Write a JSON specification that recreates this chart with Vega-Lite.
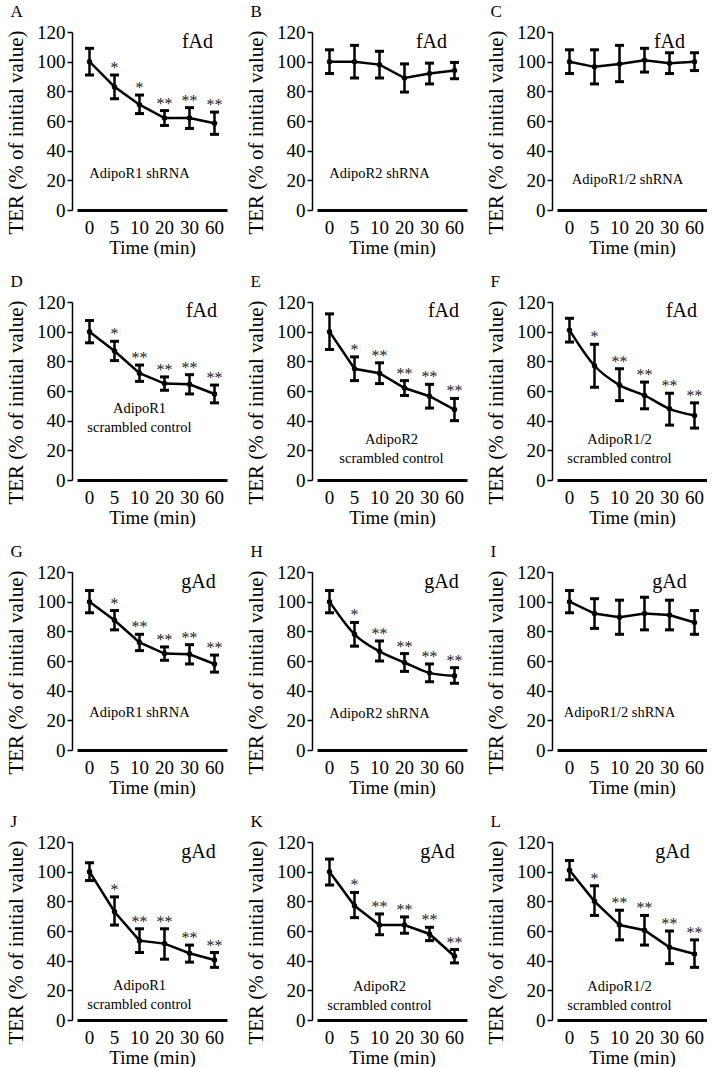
{
"$schema":"https://vega.github.io/schema/vega-lite/v6.json",
"padding":{"left":5,"top":3,"right":0,"bottom":0},
"background":"white",
"data":{"values":[
{"p":"A","t":0,"m":100,"lo":91,"hi":109,"s":""},
{"p":"A","t":5,"m":83,"lo":75,"hi":91,"s":"*"},
{"p":"A","t":10,"m":71,"lo":65,"hi":77.5,"s":"*"},
{"p":"A","t":20,"m":62,"lo":57,"hi":67,"s":"**"},
{"p":"A","t":30,"m":62,"lo":55,"hi":69,"s":"**"},
{"p":"A","t":60,"m":58.5,"lo":51,"hi":66,"s":"**"},
{"p":"B","t":0,"m":100,"lo":92,"hi":108,"s":""},
{"p":"B","t":5,"m":100,"lo":89,"hi":111,"s":""},
{"p":"B","t":10,"m":98,"lo":89,"hi":107,"s":""},
{"p":"B","t":20,"m":89,"lo":79.5,"hi":98.5,"s":""},
{"p":"B","t":30,"m":92,"lo":85,"hi":99,"s":""},
{"p":"B","t":60,"m":94,"lo":88.5,"hi":99.5,"s":""},
{"p":"C","t":0,"m":100,"lo":92,"hi":108,"s":""},
{"p":"C","t":5,"m":96.5,"lo":85,"hi":108,"s":""},
{"p":"C","t":10,"m":98.5,"lo":86.5,"hi":111,"s":""},
{"p":"C","t":20,"m":101,"lo":93,"hi":109,"s":""},
{"p":"C","t":30,"m":99,"lo":92,"hi":106,"s":""},
{"p":"C","t":60,"m":100,"lo":94,"hi":106,"s":""},
{"p":"D","t":0,"m":100,"lo":92.5,"hi":107.5,"s":""},
{"p":"D","t":5,"m":87,"lo":80.5,"hi":93.5,"s":"*"},
{"p":"D","t":10,"m":72,"lo":66.5,"hi":77.5,"s":"**"},
{"p":"D","t":20,"m":65,"lo":60.5,"hi":69.5,"s":"**"},
{"p":"D","t":30,"m":64.5,"lo":58,"hi":71,"s":"**"},
{"p":"D","t":60,"m":58,"lo":52,"hi":64,"s":"**"},
{"p":"E","t":0,"m":100,"lo":88,"hi":112,"s":""},
{"p":"E","t":5,"m":75,"lo":67,"hi":83,"s":"*"},
{"p":"E","t":10,"m":72,"lo":65,"hi":79,"s":"**"},
{"p":"E","t":20,"m":62,"lo":57,"hi":67,"s":"**"},
{"p":"E","t":30,"m":56.5,"lo":48.5,"hi":64.5,"s":"**"},
{"p":"E","t":60,"m":47.5,"lo":40,"hi":55,"s":"**"},
{"p":"F","t":0,"m":101,"lo":93,"hi":109,"s":""},
{"p":"F","t":5,"m":77,"lo":62.5,"hi":91.5,"s":"*"},
{"p":"F","t":10,"m":64,"lo":53.5,"hi":75,"s":"**"},
{"p":"F","t":20,"m":57,"lo":48,"hi":66,"s":"**"},
{"p":"F","t":30,"m":48,"lo":37,"hi":58.5,"s":"**"},
{"p":"F","t":60,"m":43.5,"lo":35,"hi":52,"s":"**"},
{"p":"G","t":0,"m":100,"lo":92.5,"hi":107.5,"s":""},
{"p":"G","t":5,"m":87.5,"lo":81,"hi":94,"s":"*"},
{"p":"G","t":10,"m":72.5,"lo":67,"hi":78,"s":"**"},
{"p":"G","t":20,"m":65,"lo":60.5,"hi":69.5,"s":"**"},
{"p":"G","t":30,"m":64.5,"lo":58,"hi":71,"s":"**"},
{"p":"G","t":60,"m":58,"lo":52.5,"hi":64,"s":"**"},
{"p":"H","t":0,"m":100,"lo":92.5,"hi":107.5,"s":""},
{"p":"H","t":5,"m":78,"lo":70,"hi":86,"s":"*"},
{"p":"H","t":10,"m":66.5,"lo":60,"hi":73.5,"s":"**"},
{"p":"H","t":20,"m":59,"lo":53,"hi":65,"s":"**"},
{"p":"H","t":30,"m":52,"lo":46,"hi":58,"s":"**"},
{"p":"H","t":60,"m":50,"lo":45,"hi":55.5,"s":"**"},
{"p":"I","t":0,"m":100,"lo":92.5,"hi":107.5,"s":""},
{"p":"I","t":5,"m":92,"lo":82,"hi":102,"s":""},
{"p":"I","t":10,"m":89.5,"lo":78,"hi":101,"s":""},
{"p":"I","t":20,"m":92,"lo":81,"hi":103,"s":""},
{"p":"I","t":30,"m":91,"lo":81,"hi":101,"s":""},
{"p":"I","t":60,"m":86,"lo":78,"hi":94,"s":""},
{"p":"J","t":0,"m":100,"lo":94,"hi":106,"s":""},
{"p":"J","t":5,"m":73,"lo":64,"hi":83,"s":"*"},
{"p":"J","t":10,"m":53.5,"lo":45.5,"hi":61.5,"s":"**"},
{"p":"J","t":20,"m":51.5,"lo":41,"hi":61.5,"s":"**"},
{"p":"J","t":30,"m":45,"lo":39,"hi":50.5,"s":"**"},
{"p":"J","t":60,"m":40.5,"lo":35.5,"hi":45.5,"s":"**"},
{"p":"K","t":0,"m":100,"lo":91,"hi":108.5,"s":""},
{"p":"K","t":5,"m":77,"lo":69,"hi":86,"s":"*"},
{"p":"K","t":10,"m":64,"lo":57.5,"hi":71.5,"s":"**"},
{"p":"K","t":20,"m":64,"lo":58.5,"hi":69.5,"s":"**"},
{"p":"K","t":30,"m":58,"lo":53.5,"hi":62.5,"s":"**"},
{"p":"K","t":60,"m":43,"lo":38.5,"hi":47.5,"s":"**"},
{"p":"L","t":0,"m":101,"lo":94.5,"hi":107.5,"s":""},
{"p":"L","t":5,"m":80,"lo":70.5,"hi":90.5,"s":"*"},
{"p":"L","t":10,"m":64,"lo":54,"hi":74,"s":"**"},
{"p":"L","t":20,"m":60.5,"lo":50.5,"hi":70.5,"s":"**"},
{"p":"L","t":30,"m":49,"lo":38,"hi":60,"s":"**"},
{"p":"L","t":60,"m":44.5,"lo":35.5,"hi":54,"s":"**"}
]},
"columns":3,
"spacing":{"row":16,"column":18},
"concat":[
{"title":{"text":"A"},"width":150,"height":178,"transform":[{"filter":"datum.p==='A'"}],"encoding":{"x":{"field":"t","type":"ordinal","axis":{"title":"Time (min)"}}},"layer":[
{"mark":{"type":"rule","strokeWidth":2.5,"color":"black"},"encoding":{"y":{"field":"lo","type":"quantitative","scale":{"domain":[0,120],"nice":false},"axis":{"title":"TER (% of initial value)","titleY":100}},"y2":{"field":"hi"}}},
{"mark":{"type":"tick","size":9,"thickness":3,"color":"black","opacity":1},"encoding":{"y":{"field":"hi","type":"quantitative"}}},
{"mark":{"type":"tick","size":9,"thickness":3,"color":"black","opacity":1},"encoding":{"y":{"field":"lo","type":"quantitative"}}},
{"mark":{"type":"line","strokeWidth":2.5,"color":"black"},"encoding":{"y":{"field":"m","type":"quantitative"}}},
{"mark":{"type":"circle","size":30,"color":"black","opacity":1},"encoding":{"y":{"field":"m","type":"quantitative"}}},
{"mark":{"type":"text","fontSize":16,"color":"#222","baseline":"middle","dy":-7},"encoding":{"y":{"field":"hi","type":"quantitative"},"text":{"field":"s"}}},
{"transform":[{"filter":"datum.t===0"}],"mark":{"type":"text","fontSize":20,"color":"black","dx":8,"baseline":"middle"},"encoding":{"x":{"datum":30,"type":"ordinal"},"y":{"datum":113,"type":"quantitative"},"text":{"value":"fAd"}}},
{"transform":[{"filter":"datum.t===0"}],"mark":{"type":"text","fontSize":14.5,"color":"black","baseline":"middle","lineBreak":"|","lineHeight":19},"encoding":{"x":{"datum":10,"type":"ordinal"},"y":{"datum":24,"type":"quantitative"},"text":{"value":"AdipoR1 shRNA"}}}
]},
{"title":{"text":"B"},"width":150,"height":178,"transform":[{"filter":"datum.p==='B'"}],"encoding":{"x":{"field":"t","type":"ordinal","axis":{"title":"Time (min)"}}},"layer":[
{"mark":{"type":"rule","strokeWidth":2.5,"color":"black"},"encoding":{"y":{"field":"lo","type":"quantitative","scale":{"domain":[0,120],"nice":false},"axis":{"title":"TER (% of initial value)","titleY":100}},"y2":{"field":"hi"}}},
{"mark":{"type":"tick","size":9,"thickness":3,"color":"black","opacity":1},"encoding":{"y":{"field":"hi","type":"quantitative"}}},
{"mark":{"type":"tick","size":9,"thickness":3,"color":"black","opacity":1},"encoding":{"y":{"field":"lo","type":"quantitative"}}},
{"mark":{"type":"line","strokeWidth":2.5,"color":"black"},"encoding":{"y":{"field":"m","type":"quantitative"}}},
{"mark":{"type":"circle","size":30,"color":"black","opacity":1},"encoding":{"y":{"field":"m","type":"quantitative"}}},
{"transform":[{"filter":"datum.t===0"}],"mark":{"type":"text","fontSize":20,"color":"black","dx":2,"baseline":"middle"},"encoding":{"x":{"datum":30,"type":"ordinal"},"y":{"datum":113,"type":"quantitative"},"text":{"value":"fAd"}}},
{"transform":[{"filter":"datum.t===0"}],"mark":{"type":"text","fontSize":14.5,"color":"black","baseline":"middle","lineBreak":"|","lineHeight":19},"encoding":{"x":{"datum":10,"type":"ordinal"},"y":{"datum":24,"type":"quantitative"},"text":{"value":"AdipoR2 shRNA"}}}
]},
{"title":{"text":"C"},"width":150,"height":178,"transform":[{"filter":"datum.p==='C'"}],"encoding":{"x":{"field":"t","type":"ordinal","axis":{"title":"Time (min)"}}},"layer":[
{"mark":{"type":"rule","strokeWidth":2.5,"color":"black"},"encoding":{"y":{"field":"lo","type":"quantitative","scale":{"domain":[0,120],"nice":false},"axis":{"title":"TER (% of initial value)","titleY":100}},"y2":{"field":"hi"}}},
{"mark":{"type":"tick","size":9,"thickness":3,"color":"black","opacity":1},"encoding":{"y":{"field":"hi","type":"quantitative"}}},
{"mark":{"type":"tick","size":9,"thickness":3,"color":"black","opacity":1},"encoding":{"y":{"field":"lo","type":"quantitative"}}},
{"mark":{"type":"line","strokeWidth":2.5,"color":"black"},"encoding":{"y":{"field":"m","type":"quantitative"}}},
{"mark":{"type":"circle","size":30,"color":"black","opacity":1},"encoding":{"y":{"field":"m","type":"quantitative"}}},
{"transform":[{"filter":"datum.t===0"}],"mark":{"type":"text","fontSize":20,"color":"black","dx":0,"baseline":"middle"},"encoding":{"x":{"datum":30,"type":"ordinal"},"y":{"datum":113,"type":"quantitative"},"text":{"value":"fAd"}}},
{"transform":[{"filter":"datum.t===0"}],"mark":{"type":"text","fontSize":14.5,"color":"black","baseline":"middle","dx":8,"lineBreak":"|","lineHeight":19},"encoding":{"x":{"datum":10,"type":"ordinal"},"y":{"datum":20,"type":"quantitative"},"text":{"value":"AdipoR1/2 shRNA"}}}
]},
{"title":{"text":"D"},"width":150,"height":178,"transform":[{"filter":"datum.p==='D'"}],"encoding":{"x":{"field":"t","type":"ordinal","axis":{"title":"Time (min)"}}},"layer":[
{"mark":{"type":"rule","strokeWidth":2.5,"color":"black"},"encoding":{"y":{"field":"lo","type":"quantitative","scale":{"domain":[0,120],"nice":false},"axis":{"title":"TER (% of initial value)","titleY":100}},"y2":{"field":"hi"}}},
{"mark":{"type":"tick","size":9,"thickness":3,"color":"black","opacity":1},"encoding":{"y":{"field":"hi","type":"quantitative"}}},
{"mark":{"type":"tick","size":9,"thickness":3,"color":"black","opacity":1},"encoding":{"y":{"field":"lo","type":"quantitative"}}},
{"mark":{"type":"line","strokeWidth":2.5,"color":"black"},"encoding":{"y":{"field":"m","type":"quantitative"}}},
{"mark":{"type":"circle","size":30,"color":"black","opacity":1},"encoding":{"y":{"field":"m","type":"quantitative"}}},
{"mark":{"type":"text","fontSize":16,"color":"#222","baseline":"middle","dy":-7},"encoding":{"y":{"field":"hi","type":"quantitative"},"text":{"field":"s"}}},
{"transform":[{"filter":"datum.t===0"}],"mark":{"type":"text","fontSize":20,"color":"black","dx":12,"baseline":"middle"},"encoding":{"x":{"datum":30,"type":"ordinal"},"y":{"datum":114,"type":"quantitative"},"text":{"value":"fAd"}}},
{"transform":[{"filter":"datum.t===0"}],"mark":{"type":"text","fontSize":14.5,"color":"black","baseline":"middle","lineBreak":"|","lineHeight":19},"encoding":{"x":{"datum":10,"type":"ordinal"},"y":{"datum":48,"type":"quantitative"},"text":{"value":"AdipoR1|scrambled control"}}}
]},
{"title":{"text":"E"},"width":150,"height":178,"transform":[{"filter":"datum.p==='E'"}],"encoding":{"x":{"field":"t","type":"ordinal","axis":{"title":"Time (min)"}}},"layer":[
{"mark":{"type":"rule","strokeWidth":2.5,"color":"black"},"encoding":{"y":{"field":"lo","type":"quantitative","scale":{"domain":[0,120],"nice":false},"axis":{"title":"TER (% of initial value)","titleY":100}},"y2":{"field":"hi"}}},
{"mark":{"type":"tick","size":9,"thickness":3,"color":"black","opacity":1},"encoding":{"y":{"field":"hi","type":"quantitative"}}},
{"mark":{"type":"tick","size":9,"thickness":3,"color":"black","opacity":1},"encoding":{"y":{"field":"lo","type":"quantitative"}}},
{"mark":{"type":"line","strokeWidth":2.5,"color":"black"},"encoding":{"y":{"field":"m","type":"quantitative"}}},
{"mark":{"type":"circle","size":30,"color":"black","opacity":1},"encoding":{"y":{"field":"m","type":"quantitative"}}},
{"mark":{"type":"text","fontSize":16,"color":"#222","baseline":"middle","dy":-7},"encoding":{"y":{"field":"hi","type":"quantitative"},"text":{"field":"s"}}},
{"transform":[{"filter":"datum.t===0"}],"mark":{"type":"text","fontSize":20,"color":"black","dx":14,"baseline":"middle"},"encoding":{"x":{"datum":30,"type":"ordinal"},"y":{"datum":114,"type":"quantitative"},"text":{"value":"fAd"}}},
{"transform":[{"filter":"datum.t===0"}],"mark":{"type":"text","fontSize":14.5,"color":"black","baseline":"middle","dx":12,"lineBreak":"|","lineHeight":19},"encoding":{"x":{"datum":10,"type":"ordinal"},"y":{"datum":27,"type":"quantitative"},"text":{"value":"AdipoR2|scrambled control"}}}
]},
{"title":{"text":"F"},"width":150,"height":178,"transform":[{"filter":"datum.p==='F'"}],"encoding":{"x":{"field":"t","type":"ordinal","axis":{"title":"Time (min)"}}},"layer":[
{"mark":{"type":"rule","strokeWidth":2.5,"color":"black"},"encoding":{"y":{"field":"lo","type":"quantitative","scale":{"domain":[0,120],"nice":false},"axis":{"title":"TER (% of initial value)","titleY":100}},"y2":{"field":"hi"}}},
{"mark":{"type":"tick","size":9,"thickness":3,"color":"black","opacity":1},"encoding":{"y":{"field":"hi","type":"quantitative"}}},
{"mark":{"type":"tick","size":9,"thickness":3,"color":"black","opacity":1},"encoding":{"y":{"field":"lo","type":"quantitative"}}},
{"mark":{"type":"line","strokeWidth":2.5,"color":"black","interpolate":"monotone"},"encoding":{"y":{"field":"m","type":"quantitative"}}},
{"mark":{"type":"circle","size":30,"color":"black","opacity":1},"encoding":{"y":{"field":"m","type":"quantitative"}}},
{"mark":{"type":"text","fontSize":16,"color":"#222","baseline":"middle","dy":-7},"encoding":{"y":{"field":"hi","type":"quantitative"},"text":{"field":"s"}}},
{"transform":[{"filter":"datum.t===0"}],"mark":{"type":"text","fontSize":20,"color":"black","dx":12,"baseline":"middle"},"encoding":{"x":{"datum":30,"type":"ordinal"},"y":{"datum":114,"type":"quantitative"},"text":{"value":"fAd"}}},
{"transform":[{"filter":"datum.t===0"}],"mark":{"type":"text","fontSize":14.5,"color":"black","baseline":"middle","lineBreak":"|","lineHeight":19},"encoding":{"x":{"datum":10,"type":"ordinal"},"y":{"datum":27,"type":"quantitative"},"text":{"value":"AdipoR1/2|scrambled control"}}}
]},
{"title":{"text":"G"},"width":150,"height":178,"transform":[{"filter":"datum.p==='G'"}],"encoding":{"x":{"field":"t","type":"ordinal","axis":{"title":"Time (min)"}}},"layer":[
{"mark":{"type":"rule","strokeWidth":2.5,"color":"black"},"encoding":{"y":{"field":"lo","type":"quantitative","scale":{"domain":[0,120],"nice":false},"axis":{"title":"TER (% of initial value)","titleY":100}},"y2":{"field":"hi"}}},
{"mark":{"type":"tick","size":9,"thickness":3,"color":"black","opacity":1},"encoding":{"y":{"field":"hi","type":"quantitative"}}},
{"mark":{"type":"tick","size":9,"thickness":3,"color":"black","opacity":1},"encoding":{"y":{"field":"lo","type":"quantitative"}}},
{"mark":{"type":"line","strokeWidth":2.5,"color":"black"},"encoding":{"y":{"field":"m","type":"quantitative"}}},
{"mark":{"type":"circle","size":30,"color":"black","opacity":1},"encoding":{"y":{"field":"m","type":"quantitative"}}},
{"mark":{"type":"text","fontSize":16,"color":"#222","baseline":"middle","dy":-7},"encoding":{"y":{"field":"hi","type":"quantitative"},"text":{"field":"s"}}},
{"transform":[{"filter":"datum.t===0"}],"mark":{"type":"text","fontSize":20,"color":"black","dx":9,"baseline":"middle"},"encoding":{"x":{"datum":30,"type":"ordinal"},"y":{"datum":113,"type":"quantitative"},"text":{"value":"gAd"}}},
{"transform":[{"filter":"datum.t===0"}],"mark":{"type":"text","fontSize":14.5,"color":"black","baseline":"middle","lineBreak":"|","lineHeight":19},"encoding":{"x":{"datum":10,"type":"ordinal"},"y":{"datum":25,"type":"quantitative"},"text":{"value":"AdipoR1 shRNA"}}}
]},
{"title":{"text":"H"},"width":150,"height":178,"transform":[{"filter":"datum.p==='H'"}],"encoding":{"x":{"field":"t","type":"ordinal","axis":{"title":"Time (min)"}}},"layer":[
{"mark":{"type":"rule","strokeWidth":2.5,"color":"black"},"encoding":{"y":{"field":"lo","type":"quantitative","scale":{"domain":[0,120],"nice":false},"axis":{"title":"TER (% of initial value)","titleY":100}},"y2":{"field":"hi"}}},
{"mark":{"type":"tick","size":9,"thickness":3,"color":"black","opacity":1},"encoding":{"y":{"field":"hi","type":"quantitative"}}},
{"mark":{"type":"tick","size":9,"thickness":3,"color":"black","opacity":1},"encoding":{"y":{"field":"lo","type":"quantitative"}}},
{"mark":{"type":"line","strokeWidth":2.5,"color":"black","interpolate":"monotone"},"encoding":{"y":{"field":"m","type":"quantitative"}}},
{"mark":{"type":"circle","size":30,"color":"black","opacity":1},"encoding":{"y":{"field":"m","type":"quantitative"}}},
{"mark":{"type":"text","fontSize":16,"color":"#222","baseline":"middle","dy":-7},"encoding":{"y":{"field":"hi","type":"quantitative"},"text":{"field":"s"}}},
{"transform":[{"filter":"datum.t===0"}],"mark":{"type":"text","fontSize":20,"color":"black","dx":12,"baseline":"middle"},"encoding":{"x":{"datum":30,"type":"ordinal"},"y":{"datum":113,"type":"quantitative"},"text":{"value":"gAd"}}},
{"transform":[{"filter":"datum.t===0"}],"mark":{"type":"text","fontSize":14.5,"color":"black","baseline":"middle","lineBreak":"|","lineHeight":19},"encoding":{"x":{"datum":10,"type":"ordinal"},"y":{"datum":24,"type":"quantitative"},"text":{"value":"AdipoR2 shRNA"}}}
]},
{"title":{"text":"I"},"width":150,"height":178,"transform":[{"filter":"datum.p==='I'"}],"encoding":{"x":{"field":"t","type":"ordinal","axis":{"title":"Time (min)"}}},"layer":[
{"mark":{"type":"rule","strokeWidth":2.5,"color":"black"},"encoding":{"y":{"field":"lo","type":"quantitative","scale":{"domain":[0,120],"nice":false},"axis":{"title":"TER (% of initial value)","titleY":100}},"y2":{"field":"hi"}}},
{"mark":{"type":"tick","size":9,"thickness":3,"color":"black","opacity":1},"encoding":{"y":{"field":"hi","type":"quantitative"}}},
{"mark":{"type":"tick","size":9,"thickness":3,"color":"black","opacity":1},"encoding":{"y":{"field":"lo","type":"quantitative"}}},
{"mark":{"type":"line","strokeWidth":2.5,"color":"black"},"encoding":{"y":{"field":"m","type":"quantitative"}}},
{"mark":{"type":"circle","size":30,"color":"black","opacity":1},"encoding":{"y":{"field":"m","type":"quantitative"}}},
{"transform":[{"filter":"datum.t===0"}],"mark":{"type":"text","fontSize":20,"color":"black","dx":0,"baseline":"middle"},"encoding":{"x":{"datum":30,"type":"ordinal"},"y":{"datum":113,"type":"quantitative"},"text":{"value":"gAd"}}},
{"transform":[{"filter":"datum.t===0"}],"mark":{"type":"text","fontSize":14.5,"color":"black","baseline":"middle","lineBreak":"|","lineHeight":19},"encoding":{"x":{"datum":10,"type":"ordinal"},"y":{"datum":25,"type":"quantitative"},"text":{"value":"AdipoR1/2 shRNA"}}}
]},
{"title":{"text":"J"},"width":150,"height":178,"transform":[{"filter":"datum.p==='J'"}],"encoding":{"x":{"field":"t","type":"ordinal","axis":{"title":"Time (min)"}}},"layer":[
{"mark":{"type":"rule","strokeWidth":2.5,"color":"black"},"encoding":{"y":{"field":"lo","type":"quantitative","scale":{"domain":[0,120],"nice":false},"axis":{"title":"TER (% of initial value)","titleY":100}},"y2":{"field":"hi"}}},
{"mark":{"type":"tick","size":9,"thickness":3,"color":"black","opacity":1},"encoding":{"y":{"field":"hi","type":"quantitative"}}},
{"mark":{"type":"tick","size":9,"thickness":3,"color":"black","opacity":1},"encoding":{"y":{"field":"lo","type":"quantitative"}}},
{"mark":{"type":"line","strokeWidth":2.5,"color":"black"},"encoding":{"y":{"field":"m","type":"quantitative"}}},
{"mark":{"type":"circle","size":30,"color":"black","opacity":1},"encoding":{"y":{"field":"m","type":"quantitative"}}},
{"mark":{"type":"text","fontSize":16,"color":"#222","baseline":"middle","dy":-7},"encoding":{"y":{"field":"hi","type":"quantitative"},"text":{"field":"s"}}},
{"transform":[{"filter":"datum.t===0"}],"mark":{"type":"text","fontSize":20,"color":"black","dx":9,"baseline":"middle"},"encoding":{"x":{"datum":30,"type":"ordinal"},"y":{"datum":113,"type":"quantitative"},"text":{"value":"gAd"}}},
{"transform":[{"filter":"datum.t===0"}],"mark":{"type":"text","fontSize":14.5,"color":"black","baseline":"middle","lineBreak":"|","lineHeight":19},"encoding":{"x":{"datum":10,"type":"ordinal"},"y":{"datum":23,"type":"quantitative"},"text":{"value":"AdipoR1|scrambled control"}}}
]},
{"title":{"text":"K"},"width":150,"height":178,"transform":[{"filter":"datum.p==='K'"}],"encoding":{"x":{"field":"t","type":"ordinal","axis":{"title":"Time (min)"}}},"layer":[
{"mark":{"type":"rule","strokeWidth":2.5,"color":"black"},"encoding":{"y":{"field":"lo","type":"quantitative","scale":{"domain":[0,120],"nice":false},"axis":{"title":"TER (% of initial value)","titleY":100}},"y2":{"field":"hi"}}},
{"mark":{"type":"tick","size":9,"thickness":3,"color":"black","opacity":1},"encoding":{"y":{"field":"hi","type":"quantitative"}}},
{"mark":{"type":"tick","size":9,"thickness":3,"color":"black","opacity":1},"encoding":{"y":{"field":"lo","type":"quantitative"}}},
{"mark":{"type":"line","strokeWidth":2.5,"color":"black"},"encoding":{"y":{"field":"m","type":"quantitative"}}},
{"mark":{"type":"circle","size":30,"color":"black","opacity":1},"encoding":{"y":{"field":"m","type":"quantitative"}}},
{"mark":{"type":"text","fontSize":16,"color":"#222","baseline":"middle","dy":-7},"encoding":{"y":{"field":"hi","type":"quantitative"},"text":{"field":"s"}}},
{"transform":[{"filter":"datum.t===0"}],"mark":{"type":"text","fontSize":20,"color":"black","dx":8,"baseline":"middle"},"encoding":{"x":{"datum":30,"type":"ordinal"},"y":{"datum":113,"type":"quantitative"},"text":{"value":"gAd"}}},
{"transform":[{"filter":"datum.t===0"}],"mark":{"type":"text","fontSize":14.5,"color":"black","baseline":"middle","lineBreak":"|","lineHeight":19},"encoding":{"x":{"datum":10,"type":"ordinal"},"y":{"datum":22.5,"type":"quantitative"},"text":{"value":"AdipoR2|scrambled control"}}}
]},
{"title":{"text":"L"},"width":150,"height":178,"transform":[{"filter":"datum.p==='L'"}],"encoding":{"x":{"field":"t","type":"ordinal","axis":{"title":"Time (min)"}}},"layer":[
{"mark":{"type":"rule","strokeWidth":2.5,"color":"black"},"encoding":{"y":{"field":"lo","type":"quantitative","scale":{"domain":[0,120],"nice":false},"axis":{"title":"TER (% of initial value)","titleY":100}},"y2":{"field":"hi"}}},
{"mark":{"type":"tick","size":9,"thickness":3,"color":"black","opacity":1},"encoding":{"y":{"field":"hi","type":"quantitative"}}},
{"mark":{"type":"tick","size":9,"thickness":3,"color":"black","opacity":1},"encoding":{"y":{"field":"lo","type":"quantitative"}}},
{"mark":{"type":"line","strokeWidth":2.5,"color":"black"},"encoding":{"y":{"field":"m","type":"quantitative"}}},
{"mark":{"type":"circle","size":30,"color":"black","opacity":1},"encoding":{"y":{"field":"m","type":"quantitative"}}},
{"mark":{"type":"text","fontSize":16,"color":"#222","baseline":"middle","dy":-7},"encoding":{"y":{"field":"hi","type":"quantitative"},"text":{"field":"s"}}},
{"transform":[{"filter":"datum.t===0"}],"mark":{"type":"text","fontSize":20,"color":"black","dx":3,"baseline":"middle"},"encoding":{"x":{"datum":30,"type":"ordinal"},"y":{"datum":113,"type":"quantitative"},"text":{"value":"gAd"}}},
{"transform":[{"filter":"datum.t===0"}],"mark":{"type":"text","fontSize":14.5,"color":"black","baseline":"middle","lineBreak":"|","lineHeight":19},"encoding":{"x":{"datum":10,"type":"ordinal"},"y":{"datum":22,"type":"quantitative"},"text":{"value":"AdipoR1/2|scrambled control"}}}
]}
],
"config":{
"font":"Liberation Serif",
"view":{"stroke":null},
"scale":{"pointPadding":0.38},
"axis":{"grid":false,"domainColor":"black","tickColor":"black","labelColor":"black","titleColor":"black","labelFont":"Liberation Serif","titleFont":"Liberation Serif","labelFontSize":19,"titleFontSize":19,"titleFontWeight":"normal"},
"axisX":{"domainWidth":3,"ticks":false,"labelPadding":8,"titlePadding":1,"labelAngle":0},
"axisY":{"domainWidth":1.5,"tickSize":5,"tickWidth":1.5,"offset":5,"tickCount":6,"labelPadding":2,"titlePadding":10,"titleFontSize":21},
"title":{"anchor":"start","frame":"bounds","fontSize":17,"fontWeight":"normal","font":"Liberation Serif","color":"black","dx":5,"offset":2},
"text":{"font":"Liberation Serif"}
}
}
